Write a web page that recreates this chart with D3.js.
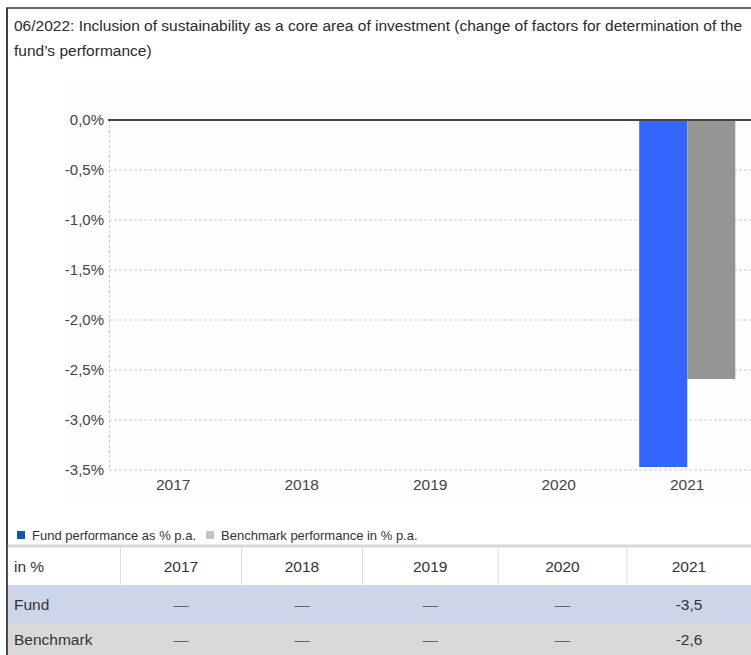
<!DOCTYPE html>
<html>
<head>
<meta charset="utf-8">
<script src="https://cdn.jsdelivr.net/npm/d3@7"></script>
<style>
  body { margin: 0; background: #fff; }
  svg { display: block; font-family: 'Liberation Sans', Arial, sans-serif; }
</style>
</head>
<body>
<div id="chart"></div>
<script>
// data
let years = ['2017', '2018', '2019', '2020', '2021'];
let fundPerf = [null, null, null, null, -3.47];
let benchPerf = [null, null, null, null, -2.59];
let fundTable = ['—', '—', '—', '—', '-3,5'];
let benchTable = ['—', '—', '—', '—', '-2,6'];
let yTicks = [0, -0.5, -1, -1.5, -2, -2.5, -3, -3.5];
let titleLines = ['06/2022: Inclusion of sustainability as a core area of investment (change of factors for determination of the',
                  'fund\u2019s performance)'];
let legendItems = [['Fund performance as % p.a.', '#0e5a9c'], ['Benchmark performance in % p.a.', '#c4c4c4']];

{
  let W = 751, H = 655;
  let svg = d3.select('#chart').append('svg')
    .attr('width', W)
    .attr('height', H);

  // frame (left + top, right side is cut off)
  svg.append('path')
    .attr('d', 'M7,' + H + 'V8H' + W)
    .attr('fill', 'none')
    .attr('stroke', '#333')
    .attr('stroke-width', 1.5);

  // title
  svg.selectAll('text.title')
    .data(titleLines)
    .join('text')
      .attr('class', 'title')
      .attr('x', 14)
      .attr('y', (d, i) => 31 + i * 25)
      .style('font-size', '15.5px')
      .attr('fill', '#2a2a2a')
      .text(d => d);

  // faint plot background
  svg.append('rect')
    .attr('x', 65).attr('y', 85)
    .attr('width', W - 65).attr('height', 415)
    .attr('fill', '#fdfdfd');

  // scales
  let x = d3.scaleBand()
    .domain(years)
    .range([109, 751.5]);
  let xSub = d3.scaleBand()
    .domain(['fund', 'bench'])
    .range([0, x.bandwidth()])
    .paddingOuter(0.3375);
  let y = d3.scaleLinear()
    .domain([-3.5, 0])
    .range([470, 120]);

  // grid
  svg.append('g')
    .selectAll('line')
    .data(yTicks.filter(d => d !== 0))
    .join('line')
      .attr('x1', 109).attr('x2', W)
      .attr('y1', d => y(d)).attr('y2', d => y(d))
      .attr('stroke', '#cfcfcf')
      .attr('stroke-dasharray', '3,2');
  svg.append('line')
    .attr('x1', 109.5).attr('x2', 109.5)
    .attr('y1', y(0)).attr('y2', y(-3.5))
    .attr('stroke', '#cfcfcf')
    .attr('stroke-dasharray', '3,2');

  // y labels
  svg.append('g')
    .selectAll('text')
    .data(yTicks)
    .join('text')
      .attr('x', 104)
      .attr('y', d => y(d))
      .attr('dy', '0.35em')
      .attr('text-anchor', 'end')
      .style('font-size', '15px')
      .attr('fill', '#444')
      .text(d => d3.format('.1f')(d).replace('.', ',').replace('−', '-') + '%');

  // bars
  let series = [['fund', fundPerf, '#3366ff'], ['bench', benchPerf, '#959595']];
  series.forEach(function(s) {
    svg.append('g')
      .selectAll('rect')
      .data(years.map((yr, i) => [yr, s[1][i]]).filter(d => d[1] != null))
      .join('rect')
        .attr('x', d => x(d[0]) + xSub(s[0]))
        .attr('y', d => y(Math.max(0, d[1])))
        .attr('width', xSub.bandwidth())
        .attr('height', d => Math.abs(y(d[1]) - y(0)))
        .attr('fill', s[2]);
  });

  // zero line
  svg.append('line')
    .attr('x1', 108).attr('x2', W)
    .attr('y1', y(0)).attr('y2', y(0))
    .attr('stroke', '#444')
    .attr('stroke-width', 2);

  // x labels
  svg.append('g')
    .selectAll('text')
    .data(years)
    .join('text')
      .attr('x', d => x(d) + x.bandwidth() / 2)
      .attr('y', 490)
      .attr('text-anchor', 'middle')
      .style('font-size', '15.5px')
      .attr('fill', '#444')
      .text(d => d);

  // legend
  let lx = 17;
  legendItems.forEach(function(d) {
    svg.append('rect')
      .attr('x', lx).attr('y', 531)
      .attr('width', 8).attr('height', 8)
      .attr('fill', d[1]);
    let t = svg.append('text')
      .attr('x', lx + 15).attr('y', 540)
      .style('font-size', '13px')
      .attr('fill', '#333')
      .text(d[0]);
    lx += 15 + t.node().getComputedTextLength() + 10;
  });

  // table
  let colEdges = [7.5, 120.5, 241.5, 362.5, 498, 627, 751];
  let rows = [
    {label: 'in %', cells: years, bg: '#ffffff', top: 547, h: 38},
    {label: 'Fund', cells: fundTable, bg: '#cdd6e9', top: 585, h: 38},
    {label: 'Benchmark', cells: benchTable, bg: '#d9d9d9', top: 623, h: 32}
  ];
  let tbl = svg.append('g');
  rows.forEach(function(r, ri) {
    tbl.append('rect')
      .attr('x', 7.5).attr('y', r.top)
      .attr('width', W - 7.5).attr('height', r.h)
      .attr('fill', r.bg);
    if (ri === 0) {
      tbl.selectAll('line.sep')
        .data(colEdges.slice(1, -1))
        .join('line')
          .attr('class', 'sep')
          .attr('x1', d => d).attr('x2', d => d)
          .attr('y1', r.top).attr('y2', r.top + r.h)
          .attr('stroke', '#dddddd');
    }
    tbl.append('text')
      .attr('x', 14).attr('y', r.top + r.h / 2 + 1)
      .attr('dy', '0.35em')
      .style('font-size', '15.5px')
      .attr('fill', '#333')
      .text(r.label);
    r.cells.forEach(function(c, i) {
      tbl.append('text')
        .attr('x', (colEdges[i + 1] + colEdges[i + 2]) / 2)
        .attr('y', r.top + r.h / 2 + 1)
        .attr('dy', '0.35em')
        .attr('text-anchor', 'middle')
        .style('font-size', '15.5px')
        .attr('fill', c === '—' ? '#666' : '#333')
        .text(c);
    });
  });
  tbl.append('line')
    .attr('x1', 7).attr('x2', W)
    .attr('y1', 546).attr('y2', 546)
    .attr('stroke', '#d8d8d8')
    .attr('stroke-width', 3);

  // frame redraw on top of table backgrounds
  svg.append('line')
    .attr('x1', 7).attr('x2', 7)
    .attr('y1', 8).attr('y2', H)
    .attr('stroke', '#333')
    .attr('stroke-width', 1.5);
}
</script>
</body>
</html>
